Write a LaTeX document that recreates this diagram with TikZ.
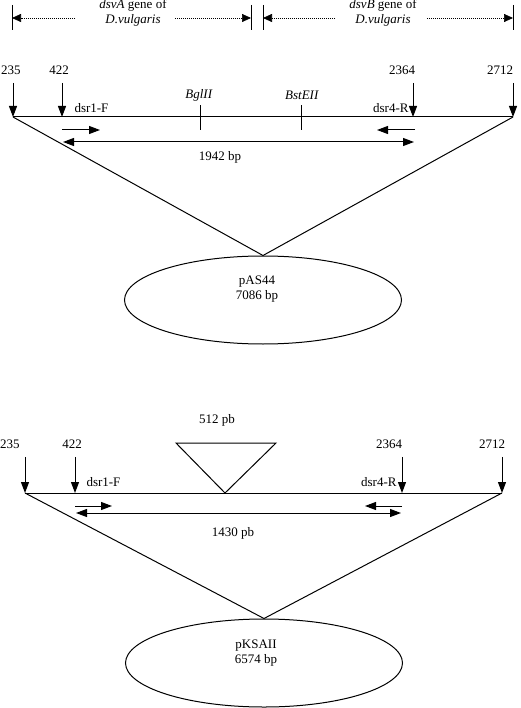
\documentclass[tikz,border=0pt]{standalone}
\usepackage{fontspec}
\setmainfont{Liberation Serif}
\usetikzlibrary{arrows.meta,shapes.geometric}
\begin{document}
\begin{tikzpicture}[x=1pt,y=-1pt,line width=1pt,
  every node/.style={font=\fontsize{13pt}{15pt}\selectfont,inner sep=1pt},
  tip/.style={-{Triangle[length=11pt,width=8pt]}},
  both/.style={{Triangle[length=11pt,width=8pt]}-{Triangle[length=11pt,width=8pt]}},
  gene/.style={-{Triangle[length=9pt,width=8pt]},dash pattern=on 1.2pt off 0.8pt,line width=0.7pt},
  plasmid/.style={draw,ellipse,minimum width=277pt,minimum height=88pt}]
\useasboundingbox (0,0) rectangle (520,708);
% gene spans
\draw (12,5) -- (12,30);
\draw (251,5) -- (251,30);
\draw (263,5) -- (263,30);
\draw (513,5) -- (513,30);
\node[align=center] (dsvA) at (133,13) {\textit{dsvA} gene of\\\textit{D.vulgaris}};
\node[align=center] (dsvB) at (383,13) {\textit{dsvB} gene of\\\textit{D.vulgaris}};
\coordinate (gA1) at (75,18); \coordinate (gA2) at (175,18);
\coordinate (gB1) at (335,18); \coordinate (gB2) at (427,18);
\draw[gene] (gA1) -- (12,18);
\draw[gene] (gA2) -- (251,18);
\draw[gene] (gB1) -- (263,18);
\draw[gene] (gB2) -- (513,18);
% pAS44
\coordinate (u235) at (13,117);
\coordinate (u422) at (62,117);
\coordinate (u2364) at (413,117);
\coordinate (u2712) at (513,117);
\node (n235) at (11,70) {235};
\node (n422) at (59,70) {422};
\node (n2364) at (402,70) {2364};
\node (n2712) at (500,70) {2712};
\draw (u235) -- (u2712);
\draw[tip,shorten <=7pt] (u235 |- n235.south) -- (u235);
\draw[tip,shorten <=7pt] (u422 |- n422.south) -- (u422);
\draw[tip,shorten <=7pt] (u2364 |- n2364.south) -- (u2364);
\draw[tip,shorten <=7pt] (u2712 |- n2712.south) -- (u2712);
\node[anchor=west] (f1) at (73,108) {dsr1-F};
\node[anchor=east] (r1) at (410,108) {dsr4-R};
\node (bgl) at (199,95) {\textit{BglII}};
\node (bst) at (302,95) {\textit{BstEII}};
\coordinate (kBgl) at (200,130); \coordinate (kBst) at (301,130);
\draw (kBgl) -- ++(0,-25);
\draw (kBst) -- ++(0,-25);
\coordinate (pf1) at (62,130); \coordinate (pr1) at (415,130);
\draw[tip] (pf1) -- ++(38,0);
\draw[tip] (pr1) -- ++(-38,0);
\coordinate (d1a) at (63,142); \coordinate (d1b) at (414,142);
\draw[both] (d1a) -- (d1b);
\node (len1) at (220,157) {1942 bp};
\node[plasmid] (pAS) at (263,300) {};
\node[align=center] (pASt) at (257,289) {pAS44\\7086 bp};
\draw (u235) -- (pAS.north) -- (u2712);
% pKSAII
\coordinate (v235) at (25,493);
\coordinate (v422) at (75,493);
\coordinate (v2364) at (402,493);
\coordinate (v2712) at (502,493);
\node (m235) at (10,444) {235};
\node (m422) at (72,444) {422};
\node (m2364) at (389,444) {2364};
\node (m2712) at (492,444) {2712};
\draw (v235) -- (v2712);
\draw[tip,shorten <=7pt] (v235 |- m235.south) -- (v235);
\draw[tip,shorten <=7pt] (v422 |- m422.south) -- (v422);
\draw[tip,shorten <=7pt] (v2364 |- m2364.south) -- (v2364);
\draw[tip,shorten <=7pt] (v2712 |- m2712.south) -- (v2712);
\coordinate (ins) at (225,493);
\draw (ins) -- (176,443) -- (276,443) -- cycle;
\node (ins512) at (217,420) {512 pb};
\node[anchor=west] (f2) at (85,482) {dsr1-F};
\node[anchor=east] (r2) at (398,482) {dsr4-R};
\coordinate (pf2) at (75,506); \coordinate (pr2) at (402,506);
\draw[tip] (pf2) -- ++(37,0);
\draw[tip] (pr2) -- ++(-37,0);
\coordinate (d2a) at (76,513); \coordinate (d2b) at (401,513);
\draw[both] (d2a) -- (d2b);
\node (len2) at (233,533) {1430 pb};
\node[plasmid] (pKS) at (264,663) {};
\node[align=center] (pKSt) at (256,653) {pKSAII\\6574 bp};
\draw (v235) -- (pKS.north) -- (v2712);
\end{tikzpicture}
\end{document}
